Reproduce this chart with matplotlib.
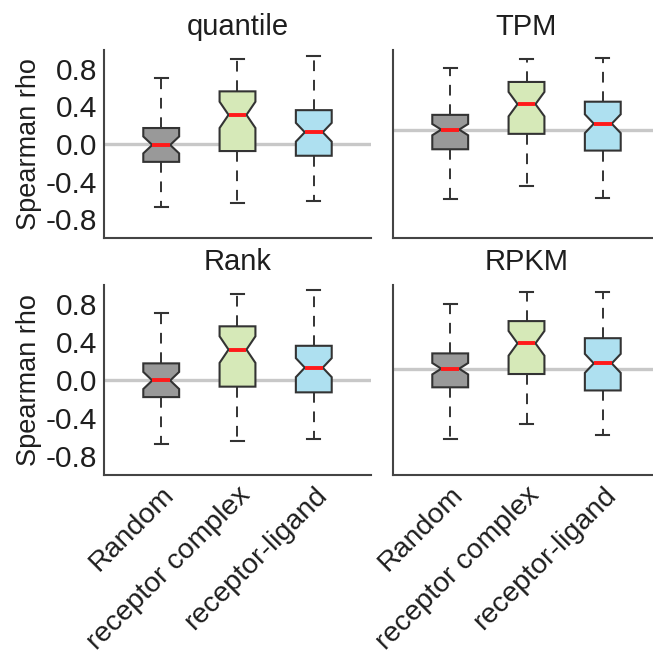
import matplotlib
matplotlib.use("Agg")
import matplotlib.pyplot as plt

plt.rcParams['font.family'] = ['Liberation Sans', 'DejaVu Sans']

groups = ["Random", "receptor complex", "receptor-ligand"]
panels = ["quantile", "TPM", "Rank", "RPKM"]

# per panel: values for Random, receptor complex, receptor-ligand
whishi = {"quantile": [0.70, 0.90, 0.94], "TPM": [0.81, 0.90, 0.91],
          "Rank": [0.71, 0.91, 0.95], "RPKM": [0.80, 0.93, 0.93]}
q3 = {"quantile": [0.17, 0.56, 0.36], "TPM": [0.31, 0.66, 0.45],
      "Rank": [0.175, 0.565, 0.36], "RPKM": [0.28, 0.62, 0.44]}
med = {"quantile": [-0.01, 0.31, 0.125], "TPM": [0.153, 0.424, 0.216],
       "Rank": [-0.005, 0.32, 0.13], "RPKM": [0.119, 0.386, 0.175]}
q1 = {"quantile": [-0.19, -0.075, -0.125], "TPM": [-0.056, 0.108, -0.07],
      "Rank": [-0.18, -0.07, -0.13], "RPKM": [-0.077, 0.063, -0.11]}
whislo = {"quantile": [-0.67, -0.63, -0.61], "TPM": [-0.59, -0.45, -0.57],
          "Rank": [-0.67, -0.64, -0.625], "RPKM": [-0.62, -0.46, -0.58]}
notch = {"quantile": [0.09, 0.14, 0.10], "TPM": [0.06, 0.13, 0.10],
         "Rank": [0.09, 0.14, 0.10], "RPKM": [0.06, 0.13, 0.10]}
ref_line = {"quantile": 0.0, "TPM": 0.153, "Rank": 0.0, "RPKM": 0.119}

colors = ["#999999", "#d6e9b8", "#aee0f0"]
edge = "#333333"
txt = "#1e1e1e"

fig = plt.figure(figsize=(6.53, 6.56), dpi=100)
positions = {
    "quantile": [104 / 653, 1 - 238 / 656, 267 / 653, 188 / 656],
    "TPM": [393 / 653, 1 - 238 / 656, 267 / 653, 188 / 656],
    "Rank": [104 / 653, 1 - 475 / 656, 267 / 653, 190 / 656],
    "RPKM": [393 / 653, 1 - 475 / 656, 267 / 653, 190 / 656],
}

for name in panels:
    ax = fig.add_axes(positions[name])
    ax.axhline(ref_line[name], color="#c8c8c8", lw=2.4, zorder=0)
    stats = []
    for i in range(3):
        stats.append(dict(med=med[name][i], q1=q1[name][i], q3=q3[name][i],
                          whislo=whislo[name][i], whishi=whishi[name][i],
                          cilo=med[name][i] - notch[name][i],
                          cihi=med[name][i] + notch[name][i], fliers=[]))
    bp = ax.bxp(stats, positions=[1, 2, 3], widths=0.47, capwidths=0.17,
                shownotches=True, patch_artist=True, showfliers=False,
                boxprops=dict(edgecolor=edge, linewidth=1.5),
                whiskerprops=dict(color=edge, linewidth=1.4, linestyle=(0, (5.5, 4.5))),
                capprops=dict(color=edge, linewidth=1.5),
                medianprops=dict(color="#ff1a1a", linewidth=2.8))
    for patch, c in zip(bp["boxes"], colors):
        patch.set_facecolor(c)
    ax.set_xlim(0.25, 3.75)
    ax.set_ylim(-1, 1)
    ax.set_yticks([0.8, 0.4, 0.0, -0.4, -0.8])
    for s in ["top", "right"]:
        ax.spines[s].set_visible(False)
    for s in ["left", "bottom"]:
        ax.spines[s].set_color("#444444")
        ax.spines[s].set_linewidth(1.5)
    ax.tick_params(length=0, labelsize=21.5, colors=txt, pad=5)
    ax.set_title(name, fontsize=21, color=txt, pad=11)
    if name in ("quantile", "Rank"):
        ax.set_yticklabels(["0.8", "0.4", "0.0", "-0.4", "-0.8"])
        ax.set_ylabel("Spearman rho", fontsize=19.5, color=txt, labelpad=3)
    else:
        ax.set_yticklabels([])
    if name in ("Rank", "RPKM"):
        ax.set_xticks([1, 2, 3])
        ax.set_xticklabels(groups, rotation=45, ha="right",
                           rotation_mode="anchor", fontsize=20.5)
    else:
        ax.set_xticks([])

fig.savefig("out.png", dpi=100)
